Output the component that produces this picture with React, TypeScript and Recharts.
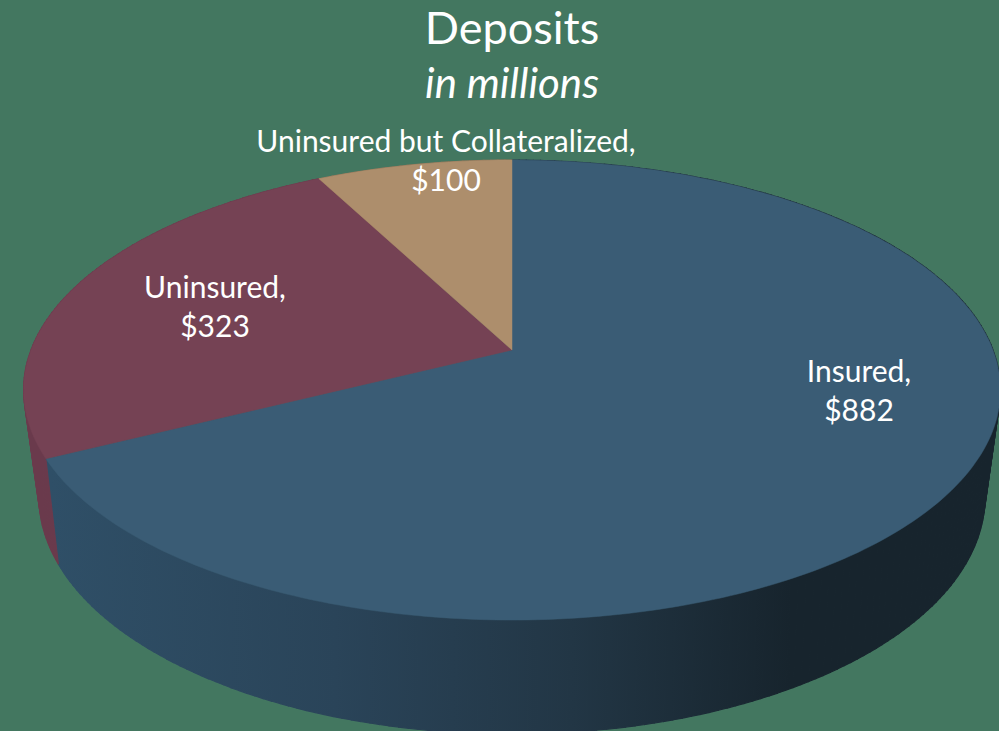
import { PieChart, Pie } from 'recharts';

const names = ['Insured', 'Uninsured', 'Uninsured but Collateralized'];
const values = [882, 323, 100];
const topColors = ['#3a5c75', '#754254', '#ad8e6c'];

const data = names.map((name, i) => ({ name, value: values[i], fill: topColors[i], idx: i }));

// where the two line labels sit, same order as names
const labelX = [859, 215, 446];
const labelY = [382, 298, 152];

const TOP = { cx: 512, cy: 350, r: 481, squash: 0.337, persp: 0.174 };
const BOTTOM = { cx: 512, cy: 452, r: 464.4, squash: 0.307, persp: 0.19 };

// recharts angle (deg, ccw from east) -> point on the tilted disc
const project = (ring: typeof TOP, angle: number) => {
    const t = (angle * Math.PI) / 180;
    const u = Math.cos(t);
    const v = Math.sin(t);
    const w = 1 + ring.persp * v;
    return {
        x: ring.cx + (ring.r * u) / w,
        y: (ring.cy - ring.r * ring.squash * v) / w,
    };
};

const TopSlice = (props: any) => {
    const { startAngle, endAngle, fill } = props;
    const pts = [`${TOP.cx},${TOP.cy}`];
    const n = Math.ceil(Math.abs(endAngle - startAngle));
    for (let i = 0; i <= n; i++) {
        const p = project(TOP, startAngle + ((endAngle - startAngle) * i) / n);
        pts.push(`${p.x.toFixed(1)},${p.y.toFixed(1)}`);
    }
    return <polygon points={pts.join(' ')} fill={fill} stroke={fill} strokeWidth={0.5} />;
};

const WallSlice = (props: any) => {
    const { startAngle, endAngle, idx } = props;
    const n = Math.ceil(Math.abs(endAngle - startAngle));
    const quads = [];
    for (let i = 0; i < n; i++) {
        const a = startAngle + ((endAngle - startAngle) * i) / n;
        const b = startAngle + ((endAngle - startAngle) * (i + 1)) / n;
        const p = [project(TOP, a), project(TOP, b), project(BOTTOM, b), project(BOTTOM, a)];
        quads.push(
            <polygon
                key={i}
                points={p.map((q) => `${q.x.toFixed(1)},${q.y.toFixed(1)}`).join(' ')}
                fill={`url(#wall${idx})`}
                stroke={`url(#wall${idx})`}
                strokeWidth={1.2}
            />
        );
    }
    return <g>{quads}</g>;
};

const renderLabel = (props: any) => {
    const i = props.index;
    return (
        <text x={labelX[i]} y={labelY[i]} textAnchor="middle" fill="#fff" fontFamily="Lato" fontSize={30}>
            <tspan x={labelX[i]}>{`${names[i]},`}</tspan>
            <tspan x={labelX[i]} dy={39}>{`$${values[i]}`}</tspan>
        </text>
    );
};

const App = () => {
    return (
        <div style={{ position: 'absolute', left: 0, top: 0, width: 999, height: 731, background: '#437760' }}>
            <PieChart width={999} height={731} margin={{ top: 0, right: 0, bottom: 0, left: 0 }}>
                <defs>
                    <linearGradient id="wall0" gradientUnits="userSpaceOnUse" x1={50} y1={0} x2={999} y2={0}>
                        <stop offset="0" stopColor="#2f4f67" />
                        <stop offset="0.3" stopColor="#2a4459" />
                        <stop offset="0.55" stopColor="#223645" />
                        <stop offset="0.78" stopColor="#17242d" />
                        <stop offset="1" stopColor="#17242d" />
                    </linearGradient>
                    <linearGradient id="wall1" gradientUnits="userSpaceOnUse" x1={20} y1={0} x2={60} y2={0}>
                        <stop offset="0" stopColor="#6a3a4c" />
                        <stop offset="1" stopColor="#6a3a4c" />
                    </linearGradient>
                    <linearGradient id="wall2" gradientUnits="userSpaceOnUse" x1={0} y1={0} x2={999} y2={0}>
                        <stop offset="0" stopColor="#8a7156" />
                        <stop offset="1" stopColor="#8a7156" />
                    </linearGradient>
                </defs>
                <Pie
                    data={data}
                    dataKey="value"
                    nameKey="name"
                    cx={BOTTOM.cx}
                    cy={BOTTOM.cy}
                    outerRadius={BOTTOM.r}
                    startAngle={90}
                    endAngle={-270}
                    shape={WallSlice}
                    isAnimationActive={false}
                    legendType="none"
                />
                <Pie
                    data={data}
                    dataKey="value"
                    nameKey="name"
                    cx={TOP.cx}
                    cy={TOP.cy}
                    outerRadius={TOP.r}
                    startAngle={90}
                    endAngle={-270}
                    shape={TopSlice}
                    label={renderLabel}
                    labelLine={false}
                    isAnimationActive={false}
                    legendType="none"
                />
                <text x={512} y={44} textAnchor="middle" fill="#fff" fontFamily="Lato" fontSize={45}>Deposits</text>
                <text x={512} y={98} textAnchor="middle" fill="#fff" fontFamily="Lato" fontStyle="italic" fontSize={42}>in millions</text>
            </PieChart>
        </div>
    );
};

export default App;
